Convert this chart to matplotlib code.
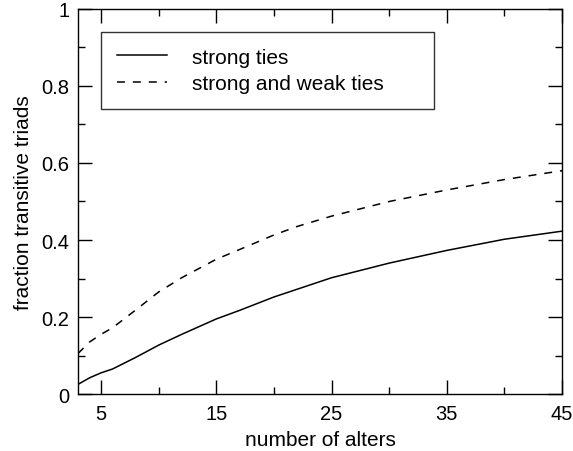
import matplotlib.pyplot as plt

plt.rcParams['font.family'] = ['Liberation Sans', 'DejaVu Sans']

# number of alters and fraction of transitive triads
alters = [3, 4, 5, 6, 7, 8, 10, 12, 15, 17, 20, 22, 25, 30, 35, 40, 45]
strong = [0.025, 0.042, 0.055, 0.065, 0.080, 0.095, 0.127, 0.155, 0.195, 0.217, 0.252, 0.272, 0.302, 0.340, 0.373, 0.402, 0.423]
strong_weak = [0.105, 0.135, 0.155, 0.172, 0.195, 0.218, 0.265, 0.302, 0.350, 0.375, 0.413, 0.435, 0.462, 0.500, 0.530, 0.557, 0.580]

fig = plt.figure(figsize=(5.73, 4.52), dpi=100)
ax = fig.add_axes([0.136, 0.126, 0.845, 0.852])

ax.plot(alters, strong, color='black', lw=1.1, label='strong ties')
ax.plot(alters, strong_weak, color='black', lw=1.1, ls=(0, (5.2, 5.2)), label='strong and weak ties')

ax.set_xlim(3, 45)
ax.set_ylim(0, 1)
ax.set_xticks([5, 15, 25, 35, 45])
ax.set_xticks([10, 20, 30, 40], minor=True)
ax.set_yticks([0, 0.2, 0.4, 0.6, 0.8, 1])
ax.set_yticklabels(['0', '0.2', '0.4', '0.6', '0.8', '1'])
ax.set_yticks([0.1, 0.3, 0.5, 0.7, 0.9], minor=True)
ax.tick_params(which='both', direction='in', top=True, right=True, labelsize=14.5, width=1)
ax.tick_params(axis='x', pad=7)
ax.tick_params(axis='y', pad=6)
ax.tick_params(which='major', length=10)
ax.tick_params(which='minor', length=5)
for s in ax.spines.values():
    s.set_linewidth(1)

ax.set_xlabel('number of alters', fontsize=15, labelpad=5)
ax.set_ylabel('fraction transitive triads', fontsize=15, labelpad=6)

leg = ax.legend(loc='upper left', bbox_to_anchor=(0.048, 0.5, 0.687, 0.44), mode='expand',
                fontsize=15, frameon=True, fancybox=False, edgecolor='black',
                handlelength=2.4, borderpad=0.75, labelspacing=0.35, handletextpad=1.2,
                borderaxespad=0)
leg.get_frame().set_linewidth(1)

fig.savefig('out.png', dpi=100)
